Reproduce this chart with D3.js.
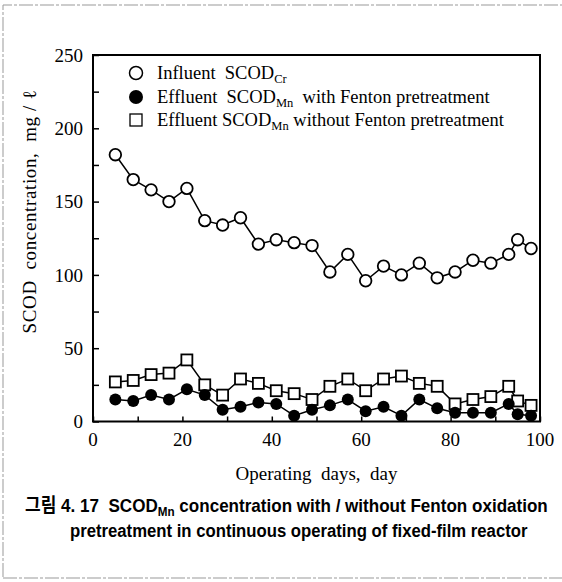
<!DOCTYPE html>
<head>
<meta charset="utf-8">
<title></title>
<style>
body { margin: 0; background: #fff; }
text { font-family: "Liberation Serif", "DejaVu Serif", serif; fill: #000; white-space: pre; }
.line { fill: none; stroke: #000; stroke-width: 1.5px; }
.caption { font-family: "Liberation Sans", "Noto Sans CJK KR", sans-serif; font-weight: bold; }
</style>
</head>
<body>
<script src="https://cdn.jsdelivr.net/npm/d3@7/dist/d3.min.js"></script>
<script>

// operating day of each sample
var days = [5, 9, 13, 17, 21, 25, 29, 33, 37, 41, 45, 49, 53, 57, 61, 65, 69, 73, 77, 81, 85, 89, 93, 95, 98];
// influent SCODcr, mg/l
var influent = [182, 165, 158, 150, 159, 137, 134, 139, 121, 124, 122, 120, 102, 114, 96, 106, 100, 108, 98, 102, 110, 108, 114, 124, 118];
// effluent SCODmn with Fenton pretreatment
var withFenton = [15, 14, 18, 15, 22, 18, 8, 10, 13, 12, 4, 8, 11, 15, 7, 10, 4, 15, 9, 6, 6, 6, 12, 5, 4];
// effluent SCODmn without Fenton pretreatment
var withoutFenton = [27, 28, 32, 33, 42, 25, 18, 29, 26, 21, 19, 15, 24, 29, 21, 29, 31, 26, 24, 12, 15, 17, 24, 14, 11];

var xTicks = [0, 20, 40, 60, 80, 100];
var yTicks = [0, 50, 100, 150, 200, 250];

var width = 562, height = 582;
var plotLeft = 93, plotRight = 540, plotTop = 55, plotBottom = 421.5;

var svg = d3.select("body").append("svg")
    .attr("width", width)
    .attr("height", height);

// scanned page border
svg.append("path")
    .attr("d", "M3,577 L3,5 L562,5 M3,578 L562,578")
    .attr("fill", "none")
    .attr("stroke", "#999")
    .attr("stroke-width", 1)
    .attr("stroke-dasharray", "14,2,3,2");

var x = d3.scaleLinear().domain([0, 100]).range([plotLeft, plotRight]);
var y = d3.scaleLinear().domain([0, 250]).range([plotBottom, plotTop]);

// inward minor ticks
var xAxis = d3.axisTop(x).tickValues(d3.range(0, 101, 10)).tickSize(5).tickFormat("");
var yAxis = d3.axisRight(y).tickValues(d3.range(0, 251, 25)).tickSize(6).tickFormat("");

svg.append("g").attr("transform", "translate(0," + plotBottom + ")").call(xAxis)
    .call(function(g) { g.select(".domain").remove(); g.selectAll("line").attr("stroke-width", 1.5); });
svg.append("g").attr("transform", "translate(" + plotLeft + ",0)").call(yAxis)
    .call(function(g) { g.select(".domain").remove(); g.selectAll("line").attr("stroke-width", 1.5); });

// frame
svg.append("rect")
    .attr("x", plotLeft).attr("y", plotTop)
    .attr("width", plotRight - plotLeft).attr("height", plotBottom - plotTop)
    .attr("fill", "none")
    .attr("stroke", "#000")
    .attr("stroke-width", 2);

// tick labels
svg.selectAll(".xlab").data(xTicks).enter().append("text")
    .attr("x", function(d) { return x(d); })
    .attr("y", 446)
    .attr("text-anchor", "middle")
    .style("font-size", "19px")
    .text(function(d) { return d; });

svg.selectAll(".ylab").data(yTicks).enter().append("text")
    .attr("x", 83)
    .attr("y", function(d) { return y(d); })
    .attr("dy", "0.35em")
    .attr("text-anchor", "end")
    .style("font-size", "19px")
    .text(function(d) { return d; });

// axis titles
svg.append("text")
    .attr("x", (plotLeft + plotRight) / 2)
    .attr("y", 480)
    .attr("text-anchor", "middle")
    .style("font-size", "19px")
    .text("Operating  days,  day");

svg.append("text")
    .attr("transform", "translate(36,212) rotate(-90)")
    .attr("text-anchor", "middle")
    .attr("textLength", 243)
    .attr("lengthAdjust", "spacing")
    .style("font-size", "19px")
    .text("SCOD  concentration,  mg / \u2113");

// series
function series(vals) {
  return days.map(function(d, i) { return { day: d, v: vals[i] }; });
}
var line = d3.line().x(function(d) { return x(d.day); }).y(function(d) { return y(d.v); });

[influent, withFenton, withoutFenton].forEach(function(vals) {
  svg.append("path").attr("class", "line").attr("d", line(series(vals)));
});

svg.selectAll(".sq").data(series(withoutFenton)).enter().append("rect")
    .attr("x", function(d) { return x(d.day) - 5.5; })
    .attr("y", function(d) { return y(d.v) - 5.5; })
    .attr("width", 11).attr("height", 11)
    .attr("fill", "#fff").attr("stroke", "#000").attr("stroke-width", 1.8);

svg.selectAll(".fc").data(series(withFenton)).enter().append("circle")
    .attr("cx", function(d) { return x(d.day); })
    .attr("cy", function(d) { return y(d.v); })
    .attr("r", 6)
    .attr("fill", "#000");

svg.selectAll(".oc").data(series(influent)).enter().append("circle")
    .attr("cx", function(d) { return x(d.day); })
    .attr("cy", function(d) { return y(d.v); })
    .attr("r", 5.8)
    .attr("fill", "#fff").attr("stroke", "#000").attr("stroke-width", 1.8);

// legend
var legend = svg.append("g");
legend.append("circle").attr("cx", 136).attr("cy", 73).attr("r", 6.5)
    .attr("fill", "#fff").attr("stroke", "#000").attr("stroke-width", 1.5);
legend.append("circle").attr("cx", 136).attr("cy", 97).attr("r", 7)
    .attr("fill", "#000");
legend.append("rect").attr("x", 130).attr("y", 114).attr("width", 12).attr("height", 12)
    .attr("fill", "#fff").attr("stroke", "#000").attr("stroke-width", 1.3);

var legendRows = [
  { y: 79, pre: "Influent  SCOD", sub: "Cr", post: "" },
  { y: 103, pre: "Effluent  SCOD", sub: "Mn", post: "  with Fenton pretreatment" },
  { y: 126, pre: "Effluent SCOD", sub: "Mn", post: " without Fenton pretreatment" }
];
legendRows.forEach(function(r) {
  var t = legend.append("text").attr("x", 157).attr("y", r.y).style("font-size", "18.5px");
  t.append("tspan").text(r.pre);
  t.append("tspan").attr("dy", 4).style("font-size", "12.5px").text(r.sub);
  t.append("tspan").attr("dy", -4).text(r.post);
});

// caption: squeeze each line horizontally to the scanned width
function squeeze(sel, x0, y0, w) {
  var len = sel.node().getComputedTextLength();
  sel.attr("transform", "translate(" + x0 + "," + y0 + ") scale(" + (w / len) + ",1)");
}

var cap1 = svg.append("text").attr("class", "caption").style("font-size", "19px");
cap1.append("tspan").text("그림 4. 17  SCOD");
cap1.append("tspan").attr("dy", 4).style("font-size", "13px").text("Mn");
cap1.append("tspan").attr("dy", -4).text(" concentration with / without Fenton oxidation");
squeeze(cap1, 25, 512, 523);

var cap2 = svg.append("text").attr("class", "caption").style("font-size", "19px")
    .text("pretreatment in continuous operating of fixed-film reactor");
squeeze(cap2, 70, 537, 458);

</script>
</body>
</html>
